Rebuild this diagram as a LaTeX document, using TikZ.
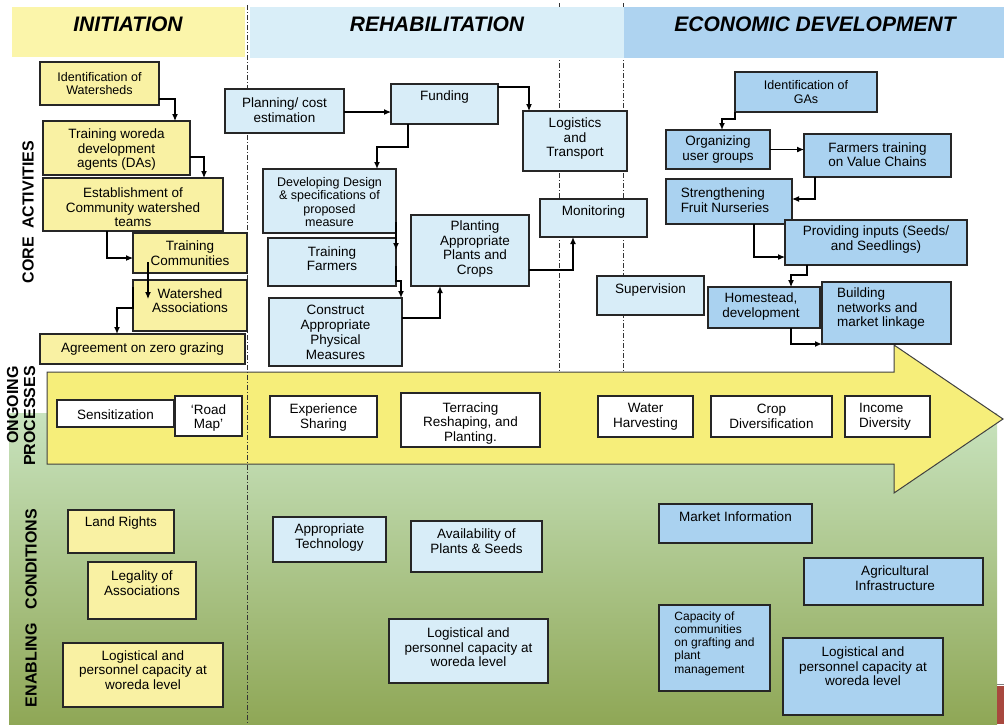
\documentclass[tikz,border=0pt]{standalone}
\usepackage{fontspec}
\setmainfont{Liberation Sans}
\usetikzlibrary{fit,calc,arrows.meta}
\definecolor{hY}{RGB}{251,245,170}
\definecolor{bY}{RGB}{249,241,163}
\definecolor{hBa}{RGB}{217,238,248}
\definecolor{bBa}{RGB}{216,237,248}
\definecolor{hBb}{RGB}{174,211,240}
\definecolor{bBb}{RGB}{170,210,240}
\definecolor{arY}{RGB}{246,238,122}
\definecolor{gTop}{RGB}{200,227,190}
\definecolor{gBot}{RGB}{143,167,86}
\definecolor{redbar}{RGB}{168,72,62}
\tikzset{
 bx/.style={draw=black!85, line width=1.1pt, inner sep=0pt, outer sep=0pt},
 yb/.style={bx, fill=bY},
 lb/.style={bx, fill=bBa},
 db/.style={bx, fill=bBb},
 wb/.style={bx, fill=white},
 txt/.style={align=center, inner sep=0pt, font=\fontsize{13.5}{14.5}\selectfont},
 sm/.style={font=\fontsize{12.5}{13.2}\selectfont},
 arr/.style={draw=black, line width=1.1pt, -{Latex[length=7pt,width=6pt]}},
 tarr/.style={arr, line width=2pt},
 phase/.style={dash pattern=on 5pt off 2pt on 1pt off 2pt, line width=0.8pt, draw=black!80},
 sidelab/.style={rotate=90, font=\fontsize{16}{17}\selectfont\bfseries, inner sep=0pt},
 headlab/.style={font=\fontsize{21}{21}\selectfont\bfseries\itshape, inner sep=0pt},
}
\newcommand\boxat[7]{\node[#2, fit={(#3) (#4)}] (#1) {};\node[txt,#6] (#1t) at ($(#1.center)+(#5)$) {#7};}
\begin{document}
\begin{tikzpicture}[x=1pt,y=-1pt]
\useasboundingbox (0,0) rectangle (1004,724);
\fill[white] (0,0) rectangle (1004,724);
% green enabling background
\shade[top color=gTop, bottom color=gBot] (9,413) rectangle (997,724);
\fill[redbar] (997,686) rectangle (1004,724);
\draw[black!50] (997,684) -- (1004,684);
% big process arrow
\draw[fill=arY, draw=black!75, line width=1pt] (47,372) -- (894,372) -- (894,345) -- (1003,419) -- (894,493) -- (894,464) -- (47,464) -- cycle;
% phase separators
\draw[phase] (247,5) -- (247,724);
\draw[phase] (559,3) -- (559,372);
\draw[phase] (623,3) -- (623,372);
% header bands
\fill[hY] (12,7) rectangle (245,57);
\fill[hBa] (250,7) rectangle (624,58);
\fill[hBb] (624,7) rectangle (1004,58);
\node[headlab] (hini) at (128,24.5) {INITIATION};
\node[headlab] (hreh) at (437,24.5) {REHABILITATION};
\node[headlab] (heco) at (815,24.5) {ECONOMIC DEVELOPMENT};
% side labels
\node[sidelab] (lcore) at (28,212) {CORE\hspace{8pt}ACTIVITIES};
\node[sidelab, align=right] (long) at (21,416) {ONGOING\\PROCESSES};
\node[sidelab] (lena) at (31,608) {ENABLING\hspace{14pt}CONDITIONS};
% initiation core
\boxat{i1}{yb}{40,62}{159,105}{0,0}{sm}{Identification of\\Watersheds}
\boxat{i2}{yb}{43,121}{190,175}{0,2}{}{Training woreda\\development\\agents (DAs)}
\boxat{i3}{yb}{43,178}{223,231}{0,3}{}{Establishment of\\Community watershed\\teams}
\boxat{i4}{yb}{133,233}{247,273}{0,0}{}{Training\\Communities}
\boxat{i5}{yb}{133,280}{247,331}{0,-5}{}{Watershed\\Associations}
\boxat{i6}{yb}{40,334}{245,364}{0,0}{}{Agreement on zero grazing}
% rehabilitation core
\boxat{r1}{lb}{225,89}{344,133}{0,-1}{}{Planning/ cost\\estimation}
\boxat{r2}{lb}{391,84}{498,124}{0,-7}{}{Funding}
\boxat{r3}{lb}{523,111}{627,171}{0,-2}{}{Logistics\\and\\Transport}
\boxat{r4}{lb}{263,169}{396,233}{0,1}{sm}{Developing Design\\\& specifications of\\proposed\\measure}
\boxat{r5}{lb}{268,238}{396,286}{0,-3.5}{}{Training\\Farmers}
\boxat{r6}{lb}{269,298}{402,366}{0,0}{font=\fontsize{13.5}{15}\selectfont}{Construct\\Appropriate\\Physical\\Measures}
\boxat{r7}{lb}{411,215}{529,286}{5,-1.5}{}{Planting\\Appropriate\\Plants and\\Crops}
\boxat{r8}{lb}{540,199}{647,237}{0,-6}{}{Monitoring}
\boxat{r9}{lb}{597,276}{704,315}{0,-5.5}{}{Supervision}
% economic core
\boxat{e1}{db}{735,72}{877,112}{0,0}{sm}{Identification of\\GAs}
\boxat{e2}{db}{666,130}{770,169}{0,0}{}{Organizing\\user groups}
\boxat{e3}{db}{804,134}{951,177}{0,-1}{}{Farmers training\\on Value Chains}
\boxat{e4}{db}{666,179}{792,224}{-4,-1.5}{align=left}{Strengthening\\Fruit Nurseries}
\boxat{e5}{db}{785,220}{967,265}{0,-3}{}{Providing inputs (Seeds/\\and Seedlings)}
\boxat{e6}{db}{708,287}{820,328}{-3,-1}{}{Homestead,\\development}
\boxat{e7}{db}{822,282}{951,344}{-5.5,-4}{align=left}{Building\\networks and\\market linkage}
% ongoing processes
\boxat{o1}{wb}{57,400}{174,427}{0,1}{}{Sensitization}
\boxat{o2}{wb}{175,396}{242,436}{0,2}{}{`Road\\Map'}
\boxat{o3}{wb}{270,396}{377,437}{0,1}{}{Experience\\Sharing}
\boxat{o4}{wb}{401,393}{540,447}{0,3}{}{Terracing\\Reshaping, and\\Planting.}
\boxat{o5}{wb}{598,396}{693,437}{0,0}{}{Water\\Harvesting}
\boxat{o6}{wb}{711,396}{832,437}{0,0}{}{Crop\\Diversification}
\boxat{o7}{wb}{845,396}{930,437}{-2.5,0}{align=left}{Income\\Diversity}
% enabling conditions
\boxat{n1}{yb}{68,510}{174,553}{0,-8.5}{}{Land Rights}
\boxat{n2}{yb}{88,562}{196,619}{0,-7.5}{}{Legality of\\Associations}
\boxat{n3}{yb}{63,643}{223,707}{0,-5}{}{Logistical and\\personnel capacity at\\woreda level}
\boxat{n4}{lb}{273,517}{386,562}{0,-2}{}{Appropriate\\Technology}
\boxat{n5}{lb}{411,521}{542,572}{0,-5.5}{}{Availability of\\Plants \& Seeds}
\boxat{n6}{lb}{389,619}{548,683}{0,-3.5}{}{Logistical and\\personnel capacity at\\woreda level}
\boxat{n7}{db}{659,504}{812,543}{0,-6.5}{}{Market Information}
\boxat{n8}{db}{804,558}{983,605}{1.5,-3.5}{}{Agricultural\\Infrastructure}
\boxat{n9}{db}{659,605}{770,691}{0,-4.5}{align=left,font=\fontsize{12}{13.2}\selectfont}{Capacity of\\communities\\on grafting and\\plant\\management}
\boxat{n10}{db}{783,638}{943,715}{0,-10}{}{Logistical and\\personnel capacity at\\woreda level}
% initiation connectors
\draw[arr] ($(i1.south east)+(0,-6)$) -| ($(i2.north west)+(132,0)$);
\draw[arr] ($(i2.south east)+(0,-18)$) -| ($(i3.north west)+(161,0)$);
\draw[arr] ($(i3.south west)+(64,0)$) |- ($(i4.west)+(0,5)$);
\draw[arr] ($(i4.south west)+(15,-11)$) -- ($(i5.north west)+(15,19)$);
\draw[tarr] ($(i5.north west)+(0,7)$) -- ($(i5.west)+(0,2.5)$) -| ($(i6.north west)+(77,0)$);
% rehabilitation connectors
\draw[arr] ($(r1.east)+(0,1)$) -- ($(r2.south west)+(0,-12)$);
\draw[arr] ($(r2.north east)+(0,3)$) -| ($(r3.north west)+(6,0)$);
\draw[tarr] ($(r2.south west)+(17,0)$) -- ++(0,23) -| ($(r4.north west)+(114,0)$);
\draw[tarr] ($(r4.south east)+(0,-11)$) -- ($(r5.north east)+(0,12)$);
\draw[tarr] ($(r5.south east)+(0,-20)$) -- ($(r5.south east)+(0,-5)$) -| ($(r6.north east)+(-1,0)$);
\draw[tarr] ($(r6.east)+(0,-14)$) -| ($(r7.south west)+(29,0)$);
\draw[tarr] ($(r7.south east)+(0,-16)$) -| ($(r8.south west)+(33,0)$);
% economic connectors
\draw[tarr] (e1.south west) -- ++(0,7) -| ($(e2.north west)+(56,0)$);
\draw[arr] (e2.east) -- ($(e3.west)+(0,-6)$);
\draw[arr] ($(e3.south west)+(11,0)$) |- ($(e4.east)+(0,-2.5)$);
\draw[arr] ($(e4.south west)+(88,0)$) |- ($(e5.south west)+(0,-8)$);
\draw[arr] ($(e5.south west)+(22,0)$) -- ++(0,10) -| ($(e6.north west)+(83,0)$);
\draw[tarr] ($(e6.south west)+(83,0)$) |- (e7.south west);
\end{tikzpicture}
\end{document}
